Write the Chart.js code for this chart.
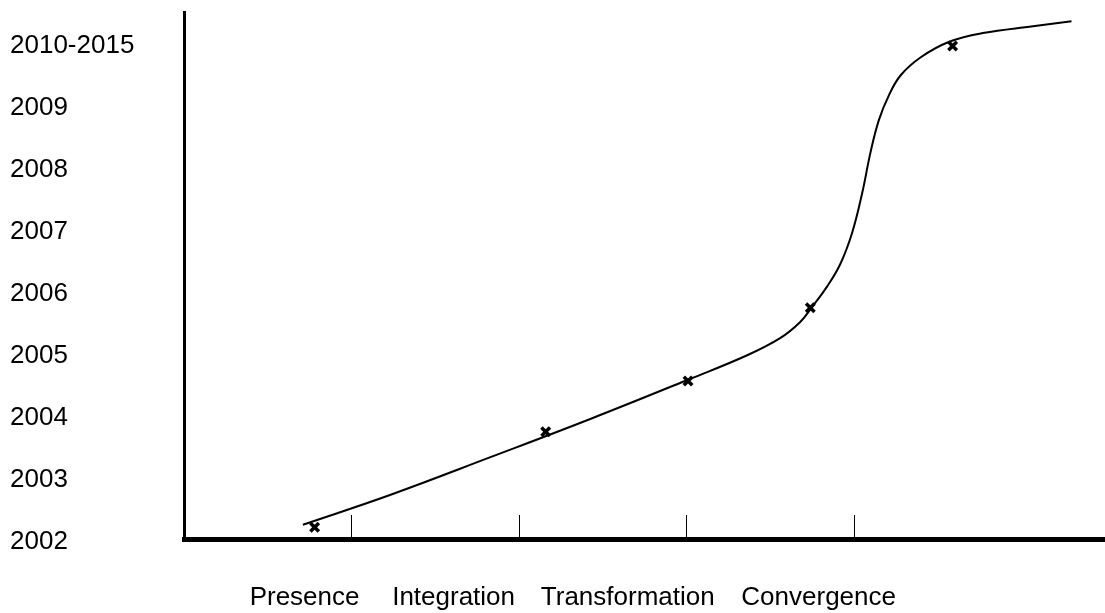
<!DOCTYPE html>
<html>
<head>
<meta charset="utf-8">
<script src="https://cdn.jsdelivr.net/npm/chart.js@4.4.1/dist/chart.umd.min.js"></script>
<style>
  html, body { margin: 0; padding: 0; background: #fff; }
  #wrap { width: 1105px; height: 613px; }
</style>
</head>
<body>
<div id="wrap"><canvas id="adoption" width="1105" height="613"></canvas></div>
<script>
// y axis: years
const yearTicks = [2002, 2003, 2004, 2005, 2006, 2007, 2008, 2009, 2010];
const yearLabels = ['2002', '2003', '2004', '2005', '2006', '2007', '2008', '2009', '2010-2015'];

// x axis: stages, where their names sit and where the small tick marks are
const stages = ['Presence', 'Integration', 'Transformation', 'Convergence'];
const stageLabelX = [0.72, 1.61, 2.65, 3.79];
const tickMarks = [1, 2, 3, 4];

// the S curve
const curveX = [0.71, 1.23, 1.83, 2.43, 3.02, 3.36, 3.56, 3.68, 3.75, 3.84, 3.92, 3.99, 4.05, 4.10, 4.15, 4.21, 4.28, 4.40, 4.57, 4.77, 5.07, 5.30];
const curveY = [2002.23, 2002.71, 2003.32, 2003.94, 2004.58, 2004.96, 2005.24, 2005.50, 2005.74, 2006.07, 2006.44, 2006.94, 2007.58, 2008.24, 2008.76, 2009.16, 2009.48, 2009.77, 2010.02, 2010.16, 2010.27, 2010.35];

// the X markers
const markerX = [0.78, 2.16, 3.01, 3.74, 4.59];
const markerY = [2002.19, 2003.73, 2004.55, 2005.73, 2009.95];

const fontFamily = '"Liberation Sans", Arial, sans-serif';

// short upward tick marks on the bottom axis
const stageTicks = {
    id: 'stageTicks',
    afterDatasetsDraw(chart) {
        const { ctx, chartArea } = chart;
        const x = chart.scales.x;
        ctx.save();
        ctx.strokeStyle = '#000';
        ctx.lineWidth = 1;
        tickMarks.forEach(v => {
            const px = Math.round(x.getPixelForValue(v)) + 0.5;
            ctx.beginPath();
            ctx.moveTo(px, chartArea.bottom);
            ctx.lineTo(px, chartArea.bottom - 24);
            ctx.stroke();
        });
        ctx.restore();
    }
};

new Chart(document.getElementById('adoption').getContext('2d'), {
    type: 'line',
    data: {
        datasets: [{
            data: curveX.map((x, i) => ({ x: x, y: curveY[i] })),
            borderColor: '#000',
            borderWidth: 2,
            pointRadius: 0,
            fill: false,
            tension: 0.4
        }, {
            type: 'scatter',
            data: markerX.map((x, i) => ({ x: x, y: markerY[i] })),
            pointStyle: 'crossRot',
            pointRadius: 6,
            borderColor: '#000',
            backgroundColor: '#000',
            borderWidth: 3.5
        }]
    },
    options: {
        responsive: false,
        animation: false,
        layout: {
            autoPadding: false,
            padding: { left: 10, top: 12, right: 0, bottom: 0 }
        },
        plugins: {
            legend: { display: false },
            tooltip: { enabled: false }
        },
        scales: {
            x: {
                type: 'linear',
                min: 0,
                max: 5.5,
                grid: { display: false, drawTicks: false },
                border: { display: true, color: '#000', width: 5 },
                afterBuildTicks: (scale) => {
                    scale.ticks = stageLabelX.map(v => ({ value: v }));
                },
                afterFit: (scale) => {
                    scale.height = 74;
                    scale.paddingLeft = 0;
                    scale.paddingRight = 0;
                },
                ticks: {
                    autoSkip: false,
                    maxRotation: 0,
                    padding: 43,
                    color: '#000',
                    font: { family: fontFamily, size: 26 },
                    callback: (value, index) => stages[index]
                }
            },
            y: {
                type: 'linear',
                min: 2002,
                max: 2010.5,
                grid: { display: false, drawTicks: false },
                border: { display: true, color: '#000', width: 3 },
                afterBuildTicks: (scale) => {
                    scale.ticks = yearTicks.map(v => ({ value: v }));
                },
                afterFit: (scale) => {
                    scale.width = 174;
                    scale.paddingTop = 0;
                    scale.paddingBottom = 0;
                },
                ticks: {
                    crossAlign: 'far',
                    labelOffset: 3,
                    color: '#000',
                    font: { family: fontFamily, size: 26 },
                    callback: (value, index) => yearLabels[index]
                }
            }
        }
    },
    plugins: [stageTicks]
});
</script>
</body>
</html>
